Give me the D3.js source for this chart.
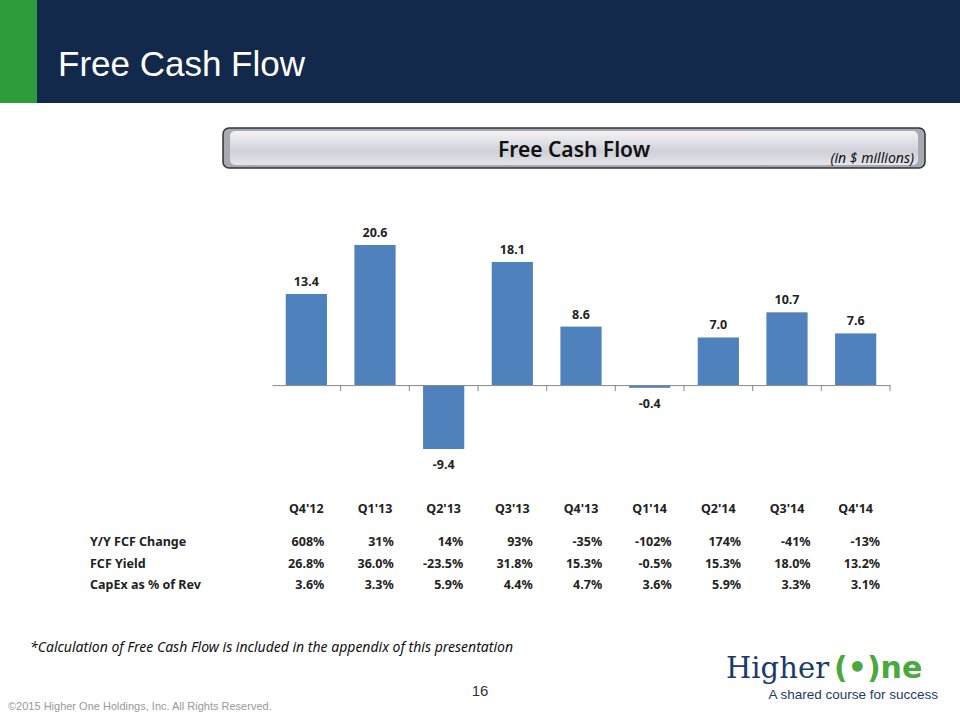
<!DOCTYPE html>
<html><head><meta charset="utf-8">
<script src="https://cdn.jsdelivr.net/npm/d3@7"></script>
<style>body{margin:0;background:#fff}</style>
</head><body>
<script>
var quarters = ["Q4'12","Q1'13","Q2'13","Q3'13","Q4'13","Q1'14","Q2'14","Q3'14","Q4'14"];
var fcf = [13.4, 20.6, -9.4, 18.1, 8.6, -0.4, 7.0, 10.7, 7.6];
var rowLabels = ["Y/Y FCF Change", "FCF Yield", "CapEx as % of Rev"];
var yoyChange = ["608%","31%","14%","93%","-35%","-102%","174%","-41%","-13%"];
var fcfYield = ["26.8%","36.0%","-23.5%","31.8%","15.3%","-0.5%","15.3%","18.0%","13.2%"];
var capexPct = ["3.6%","3.3%","5.9%","4.4%","4.7%","3.6%","5.9%","3.3%","3.1%"];
var rows = [yoyChange, fcfYield, capexPct];

var W = 960, H = 720, font = "'Noto Sans', 'Open Sans', sans-serif";
var svg = d3.select("body").append("svg").attr("width", W).attr("height", H);

// header
svg.append("rect").attr("width", W).attr("height", 103).attr("fill", "#13294b");
svg.append("rect").attr("width", 37).attr("height", 103).attr("fill", "#2e9c3a");
svg.append("text").attr("x", 58).attr("y", 76).attr("fill", "#fff")
    .style("font-family", "Arial, 'Liberation Sans', sans-serif").style("font-size", "35px")
    .text("Free Cash Flow");

// banner
var grad = svg.append("defs").append("linearGradient").attr("id", "bg").attr("x1", 0).attr("y1", 0).attr("x2", 0).attr("y2", 1);
grad.append("stop").attr("offset", "0").attr("stop-color", "#f4f4f7");
grad.append("stop").attr("offset", "0.6").attr("stop-color", "#cfd0d8");
grad.append("stop").attr("offset", "1").attr("stop-color", "#e4e4ea");
svg.append("rect").attr("x", 223).attr("y", 128).attr("width", 702).attr("height", 40).attr("rx", 6)
    .attr("fill", "#a7a9b3").attr("stroke", "#333").attr("stroke-width", 1.5);
svg.append("rect").attr("x", 230).attr("y", 131).attr("width", 688).attr("height", 34).attr("rx", 5)
    .attr("fill", "url(#bg)");
svg.append("text").attr("x", 574).attr("y", 157).attr("text-anchor", "middle")
    .style("font-family", font).style("font-weight", "600").style("font-size", "21px").attr("fill", "#111")
    .text("Free Cash Flow");
svg.append("text").attr("x", 914).attr("y", 163).attr("text-anchor", "end")
    .style("font-family", font).style("font-style", "italic").style("font-weight", "normal").style("font-size", "14px").attr("fill", "#111")
    .text("(in $ millions)");

// chart
var x = d3.scaleBand().domain(quarters).range([272, 890]).paddingInner(0.4).paddingOuter(0.2);
var y = d3.scaleLinear().domain([-9.4, 20.6]).range([449, 245]);

svg.selectAll(".bar").data(fcf).enter().append("rect")
    .attr("x", function(d, i) { return x(quarters[i]); })
    .attr("y", function(d) { return y(Math.max(0, d)); })
    .attr("width", x.bandwidth())
    .attr("height", function(d) { return Math.abs(y(d) - y(0)); })
    .attr("fill", "#4f81bd");

var axis = svg.append("g").attr("transform", "translate(0," + y(0) + ")")
    .call(d3.axisBottom(x).tickSizeInner(6).tickSizeOuter(0).tickFormat(""));
axis.select(".domain").attr("stroke", "#888");
axis.selectAll(".tick line").attr("stroke", "#888")
    .attr("transform", "translate(" + (x.step() / 2) + ",0)");

svg.selectAll(".lbl").data(fcf).enter().append("text")
    .attr("x", function(d, i) { return x(quarters[i]) + x.bandwidth() / 2; })
    .attr("y", function(d) { return d >= 0 ? y(d) - 8 : y(d) + 20; })
    .attr("text-anchor", "middle")
    .style("font-family", font).style("font-weight", "bold").style("font-size", "12.5px").attr("fill", "#222")
    .text(function(d) { return d.toFixed(1); });

// table
svg.selectAll(".cat").data(quarters).enter().append("text")
    .attr("x", function(d) { return x(d) + x.bandwidth() / 2; })
    .attr("y", 513).attr("text-anchor", "middle")
    .style("font-family", font).style("font-weight", "bold").style("font-size", "12.5px").attr("fill", "#222")
    .text(function(d) { return d; });

rows.forEach(function(r, j) {
    var ry = 546 + j * 21.5;
    svg.append("text").attr("x", 90).attr("y", ry)
        .style("font-family", font).style("font-weight", "bold").style("font-size", "12.5px").attr("fill", "#222")
        .text(rowLabels[j]);
    svg.selectAll(".r" + j).data(r).enter().append("text")
        .attr("x", function(d, i) { return x(quarters[i]) + x.bandwidth() / 2 + 18 + i * 0.8; })
        .attr("y", ry).attr("text-anchor", "end")
        .style("font-family", font).style("font-weight", "bold").style("font-size", "12.5px").attr("fill", "#222")
        .text(function(d) { return d; });
});

// footer
svg.append("text").attr("x", 30).attr("y", 652)
    .style("font-family", font).style("font-style", "italic").style("font-size", "14px").attr("fill", "#111")
    .text("*Calculation of Free Cash Flow is included in the appendix of this presentation");
svg.append("text").attr("x", 480).attr("y", 696).attr("text-anchor", "middle")
    .style("font-family", "Arial, sans-serif").style("font-size", "15px").attr("fill", "#333").text("16");
svg.append("text").attr("x", 8).attr("y", 710)
    .style("font-family", "Arial, sans-serif").style("font-size", "11px").attr("fill", "#999")
    .text("\u00a92015 Higher One Holdings, Inc. All Rights Reserved.");
svg.append("text").attr("x", 726).attr("y", 678)
    .style("font-family", "'DejaVu Serif', serif").style("font-size", "29px").attr("fill", "#1b3a6b")
    .attr("textLength", 103).text("Higher");
svg.append("text").attr("x", 834).attr("y", 678)
    .style("font-family", "'DejaVu Sans', sans-serif").style("font-weight", "bold").style("font-size", "30px").attr("fill", "#4aa83c")
    .text("(\u2022)ne");
svg.append("text").attr("x", 938).attr("y", 699).attr("text-anchor", "end")
    .style("font-family", "'Liberation Sans', Arial, sans-serif").style("font-size", "13.5px").attr("fill", "#1b3a6b")
    .text("A shared course for success");
</script>
</body></html>
